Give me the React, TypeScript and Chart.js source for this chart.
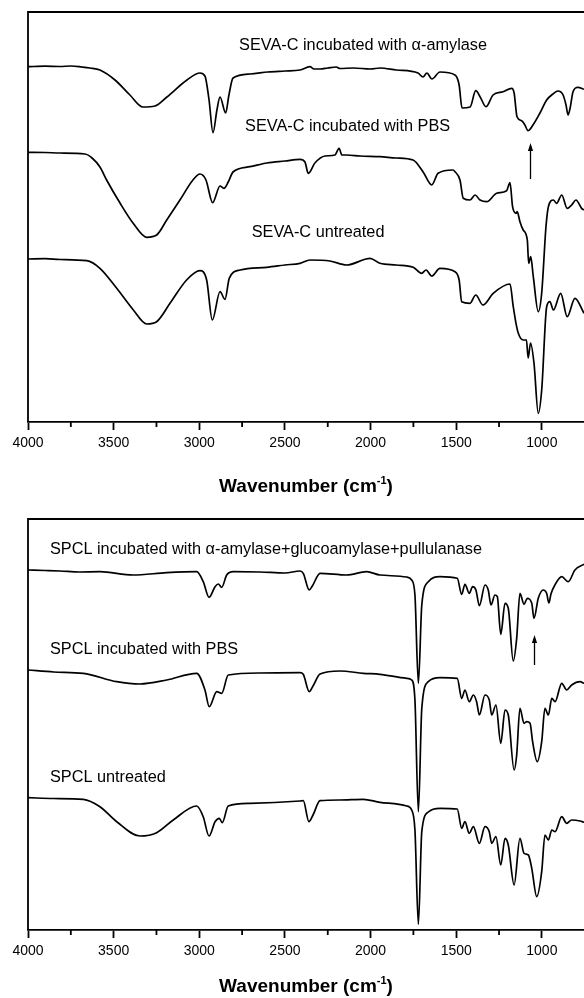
import React, { useEffect, useRef } from "react";
import { Chart, registerables } from "chart.js";

Chart.register(...registerables);

// ---- axis values ----
const WN_MIN = 754;
const WN_MAX = 4000;
const MAJOR_TICKS = [4000, 3500, 3000, 2500, 2000, 1500, 1000];
const MINOR_TICKS = [3750, 3250, 2750, 2250, 1750, 1250];

// ---- SEVA-C spectra (wavenumber, offset transmittance a.u.) ----
const sevaAmylase: [number, number][] = [
  [4000, 355.3], [3900, 355.8], [3813, 355.5], [3750, 356], [3685, 355], [3638, 354], [3580, 352], [3492, 342],
  [3405, 327], [3329, 315], [3259, 316], [3189, 325], [3072, 342], [2996, 349], [2967, 346],
  [2943, 322], [2920, 289.3], [2897, 312], [2879, 325], [2846, 309], [2827, 327], [2803, 344],
  [2704, 348], [2600, 350], [2500, 351], [2412, 352], [2354, 355.3], [2330, 353], [2295, 353],
  [2250, 354], [2200, 355], [2179, 353.5], [2100, 354], [2000, 353], [1945, 354], [1850, 352],
  [1723, 349], [1694, 345], [1671, 349], [1642, 343], [1595, 350], [1507, 347], [1483, 337],
  [1466, 314], [1419, 315], [1386, 331.3], [1361, 325.3], [1326, 315.3], [1285, 327], [1227, 330.3],
  [1176, 333.7], [1162, 329], [1145, 305.3], [1118, 301.3], [1099, 297], [1081, 291.3], [1052, 297],
  [1011, 309], [972, 322], [935, 328], [906, 331], [876, 327], [859, 317], [847, 307], [835, 314],
  [818, 330.3], [789, 334.7], [754, 332.7],
];

const sevaPBS: [number, number][] = [
  [4000, 269.7], [3900, 269.5], [3813, 269], [3667, 268], [3626, 264], [3580, 255], [3541, 242],
  [3463, 219], [3387, 199], [3307, 184.7], [3249, 187], [3190, 202], [3113, 222], [3037, 242],
  [2996, 248], [2961, 242], [2922, 219.3], [2879, 236], [2856, 233.7], [2831, 240], [2803, 250],
  [2704, 255.3], [2605, 259], [2500, 261], [2412, 262.7], [2383, 260], [2364, 248.7], [2325, 259],
  [2266, 266], [2208, 267], [2184, 273.7], [2167, 267], [2140, 267], [2060, 266], [1945, 265.3],
  [1850, 264], [1752, 262], [1694, 250.3], [1643, 237], [1606, 248.7], [1519, 252], [1507, 250.3],
  [1478, 242], [1459, 223.7], [1419, 222], [1390, 227], [1361, 222], [1322, 220.3], [1264, 228.7],
  [1206, 231.3], [1186, 239.3], [1171, 215.3], [1151, 208.7], [1144, 210.3], [1128, 200.3],
  [1109, 192], [1085, 182], [1077, 158.7], [1065, 165.3], [1050, 145.3], [1021, 110.3], [1001, 129],
  [976, 195.3], [962, 215.3], [933, 222], [914, 218.7], [884, 227], [852, 213.7], [826, 217],
  [801, 222], [768, 213.7], [754, 212],
];

const sevaUntreated: [number, number][] = [
  [4000, 163], [3900, 163.3], [3813, 162.5], [3657, 161.3], [3580, 153.7], [3482, 133.7], [3385, 112],
  [3307, 98], [3249, 100.3], [3171, 118.7], [3074, 142], [2996, 151.3], [2957, 142], [2924, 102],
  [2879, 130.3], [2850, 122.7], [2825, 143.7], [2762, 152], [2607, 154.7], [2500, 157], [2412, 158.7],
  [2354, 162], [2237, 161], [2140, 157], [2033, 162.7], [2004, 163.7], [1945, 158.7], [1850, 157],
  [1751, 154.7], [1702, 148.7], [1676, 152], [1643, 146], [1595, 153.7], [1507, 150.3], [1483, 142],
  [1468, 120.3], [1420, 118.7], [1386, 127], [1344, 117], [1284, 128.7], [1186, 138], [1167, 115.3],
  [1151, 98.7], [1138, 89], [1109, 82], [1090, 82], [1080, 64], [1066, 79], [1046, 59], [1021, 8.7],
  [1001, 32], [972, 115.3], [953, 120.3], [933, 112], [890, 128.7], [852, 105.3], [807, 123.7],
  [754, 108.7],
];

// ---- SPCL spectra ----
const spclEnzymes: [number, number][] = [
  [4000, 360], [3900, 359.5], [3813, 359], [3700, 358], [3580, 358.3], [3387, 355], [3190, 357.3],
  [3015, 358.3], [2977, 348.3], [2943, 332.7], [2908, 343.3], [2889, 346], [2869, 342.7], [2840, 355],
  [2801, 358.3], [2646, 358], [2500, 357], [2412, 359], [2393, 356.7], [2358, 340], [2340, 344],
  [2295, 356.7], [2140, 355], [2023, 358.3], [1945, 355], [1789, 353], [1760, 350], [1741, 335],
  [1721, 246.7], [1701, 325], [1663, 348.3], [1595, 353.3], [1494, 351.7], [1468, 335.7], [1449, 345.7],
  [1424, 336.7], [1404, 343.3], [1385, 340], [1365, 324.3], [1332, 345], [1313, 340], [1297, 325],
  [1274, 335], [1260, 333.3], [1240, 295.7], [1215, 326.7], [1196, 321.7], [1167, 269], [1147, 291.7],
  [1128, 336.7], [1104, 325.7], [1085, 331.7], [1059, 326.7], [1046, 311.7], [1021, 331.7], [992, 340],
  [972, 336.7], [959, 327], [947, 336], [924, 345], [884, 353.3], [846, 348.3], [807, 360], [754, 365.7],
];

const spclPBS: [number, number][] = [
  [4000, 260], [3850, 258], [3677, 256.7], [3482, 248.3], [3346, 246], [3190, 250], [3015, 256.7],
  [2967, 240], [2942, 223.3], [2898, 238.3], [2869, 236.7], [2831, 255], [2646, 257], [2412, 257.3],
  [2393, 255.7], [2358, 238.3], [2336, 244], [2295, 256], [2179, 259], [2042, 256.7], [1945, 255.7],
  [1789, 251.7], [1760, 250], [1741, 230], [1721, 118.3], [1701, 221.7], [1663, 248.3], [1595, 252.3],
  [1494, 251.7], [1468, 231.7], [1449, 240], [1424, 228.3], [1400, 235], [1381, 228.3], [1365, 215],
  [1332, 235], [1307, 230], [1293, 215], [1268, 225], [1240, 186.7], [1215, 220], [1196, 215],
  [1162, 160], [1147, 175], [1128, 221.7], [1104, 206.7], [1089, 208.3], [1069, 206.7], [1054, 188.3],
  [1027, 168.3], [1001, 188.3], [982, 221.7], [962, 215], [942, 231.7], [923, 228.3], [884, 246.7],
  [855, 240], [826, 245], [777, 248.3], [754, 246.7],
];

const spclUntreated: [number, number][] = [
  [4000, 132.3], [3850, 131.5], [3677, 130.7], [3580, 123.3], [3482, 108.3], [3346, 94], [3249, 97.3],
  [3152, 110], [3015, 124], [2977, 113.3], [2943, 94], [2908, 108.3], [2883, 111.7], [2866, 107.3],
  [2831, 124], [2704, 126.7], [2412, 129], [2393, 129.3], [2360, 108.3], [2336, 115], [2295, 129.3],
  [2179, 130], [2042, 130.7], [1945, 127.7], [1789, 124], [1760, 120], [1741, 100], [1721, 5.7],
  [1701, 98.3], [1663, 118], [1595, 121.7], [1494, 121], [1468, 101.7], [1449, 108.3], [1424, 96.7],
  [1400, 103.3], [1365, 86.7], [1332, 103.3], [1307, 98.3], [1293, 86.7], [1268, 93.3], [1240, 65],
  [1215, 91.7], [1196, 85], [1162, 45], [1128, 91.7], [1104, 76.7], [1079, 75], [1059, 61.7],
  [1030, 33.3], [1001, 58.3], [982, 95], [962, 90], [942, 100], [923, 98.3], [884, 113.3], [855, 106.7],
  [826, 110], [777, 109], [754, 107.7],
];

// ---- annotations ----
const sevaLabels = [
  { text: "SEVA-C incubated with \u03b1-amylase", wn: 2768, y: 376 },
  { text: "SEVA-C incubated with PBS", wn: 2733, y: 295.3 },
  { text: "SEVA-C untreated", wn: 2694, y: 189.3 },
];
const spclLabels = [
  { text: "SPCL incubated with \u03b1-amylase+glucoamylase+pullulanase", wn: 3872, y: 380.7 },
  { text: "SPCL incubated with PBS", wn: 3872, y: 280 },
  { text: "SPCL untreated", wn: 3872, y: 152.3 },
];
const sevaArrow = { wn: 1067, from: 243, to: 279 };
const spclArrow = { wn: 1047, from: 265, to: 295 };

const FONT = '"Liberation Sans", Arial, sans-serif';

const decorPlugin = {
  id: "decor",
  afterDatasetsDraw(chart: any, _args: any, opts: any) {
    const { ctx, chartArea: a } = chart;
    const x = chart.scales.x;
    const y = chart.scales.y;
    ctx.save();
    ctx.strokeStyle = "#000";
    ctx.fillStyle = "#000";
    ctx.lineWidth = 1.8;
    ctx.beginPath();
    ctx.moveTo(a.left, a.bottom);
    ctx.lineTo(a.left, a.top);
    ctx.lineTo(chart.width, a.top);
    ctx.stroke();
    ctx.beginPath();
    for (const v of MINOR_TICKS) {
      const px = x.getPixelForValue(v);
      ctx.moveTo(px, a.bottom);
      ctx.lineTo(px, a.bottom + 5);
    }
    ctx.stroke();

    ctx.font = `16.3px ${FONT}`;
    ctx.textBaseline = "middle";
    ctx.textAlign = "left";
    for (const l of opts.labels) {
      ctx.fillText(l.text, x.getPixelForValue(l.wn), y.getPixelForValue(l.y));
    }

    const ar = opts.arrow;
    const ax = Math.round(x.getPixelForValue(ar.wn)) + 0.5;
    const y0 = y.getPixelForValue(ar.from);
    const y1 = y.getPixelForValue(ar.to);
    ctx.lineWidth = 1.3;
    ctx.beginPath();
    ctx.moveTo(ax, y0);
    ctx.lineTo(ax, y1 + 6);
    ctx.stroke();
    ctx.beginPath();
    ctx.moveTo(ax, y1);
    ctx.lineTo(ax - 2.6, y1 + 8);
    ctx.lineTo(ax + 2.6, y1 + 8);
    ctx.closePath();
    ctx.fill();

    // axis title with superscript
    const main = "Wavenumber (cm";
    const sup = "-1";
    const end = ")";
    ctx.textBaseline = "alphabetic";
    ctx.font = `bold 19px ${FONT}`;
    const wMain = ctx.measureText(main).width;
    const wEnd = ctx.measureText(end).width;
    ctx.font = `bold 11px ${FONT}`;
    const wSup = ctx.measureText(sup).width;
    const total = wMain + wSup + wEnd;
    const cx = (a.left + chart.width) / 2;
    let tx = cx - total / 2;
    const by = a.bottom + opts.titleOffset;
    ctx.font = `bold 19px ${FONT}`;
    ctx.fillText(main, tx, by);
    tx += wMain;
    ctx.font = `bold 11px ${FONT}`;
    ctx.fillText(sup, tx, by - 8);
    tx += wSup;
    ctx.font = `bold 19px ${FONT}`;
    ctx.fillText(end, tx, by);
    ctx.restore();
  },
};

type PanelProps = {
  top: number;
  height: number;
  padTop: number;
  padBottom: number;
  yMax: number;
  series: [number, number][][];
  labels: { text: string; wn: number; y: number }[];
  arrow: { wn: number; from: number; to: number };
  titleOffset: number;
};

function Panel(p: PanelProps) {
  const ref = useRef<HTMLCanvasElement | null>(null);
  useEffect(() => {
    if (!ref.current) return;
    const chart = new Chart(ref.current, {
      type: "line",
      data: {
        datasets: p.series.map((s) => ({
          data: s.map(([wn, t]) => ({ x: wn, y: t })),
          borderColor: "#000",
          borderWidth: 1.7,
          pointRadius: 0,
          fill: false,
          cubicInterpolationMode: "monotone" as const,
        })),
      },
      options: {
        animation: false,
        responsive: false,
        events: [],
        layout: { padding: { left: 28, right: 0, top: p.padTop, bottom: p.padBottom } },
        plugins: {
          legend: { display: false },
          tooltip: { enabled: false },
          decor: { labels: p.labels, arrow: p.arrow, titleOffset: p.titleOffset },
        } as any,
        scales: {
          x: {
            type: "linear",
            reverse: true,
            min: WN_MIN,
            max: WN_MAX,
            position: "bottom",
            afterBuildTicks: (s: any) => {
              s.ticks = MAJOR_TICKS.map((v) => ({ value: v }));
            },
            afterFit: (s: any) => {
              s.height = 40;
            },
            ticks: {
              autoSkip: false,
              maxRotation: 0,
              padding: 5,
              color: "#000",
              font: { family: FONT, size: 14 },
              callback: (v: any) => String(v),
            },
            grid: {
              drawOnChartArea: false,
              drawTicks: true,
              tickLength: 8,
              tickWidth: 1.8,
              tickColor: "#000",
            },
            border: { display: true, color: "#000", width: 1.8 },
          },
          y: { display: false, min: 0, max: p.yMax },
        },
      },
      plugins: [decorPlugin],
    });
    return () => chart.destroy();
  }, []);
  return (
    <canvas
      ref={ref}
      width={584}
      height={p.height}
      style={{ position: "absolute", left: 0, top: p.top, width: 584, height: p.height }}
    />
  );
}

export default function App() {
  return (
    <div style={{ position: "absolute", left: 0, top: 0, width: 584, height: 998, background: "#fff", overflow: "hidden" }}>
      <Panel
        top={0}
        height={505}
        padTop={12}
        padBottom={43}
        yMax={410}
        series={[sevaAmylase, sevaPBS, sevaUntreated]}
        labels={sevaLabels}
        arrow={sevaArrow}
        titleOffset={70}
      />
      <Panel
        top={505}
        height={493}
        padTop={14}
        padBottom={28}
        yMax={411}
        series={[spclEnzymes, spclPBS, spclUntreated]}
        labels={spclLabels}
        arrow={spclArrow}
        titleOffset={62}
      />
    </div>
  );
}
